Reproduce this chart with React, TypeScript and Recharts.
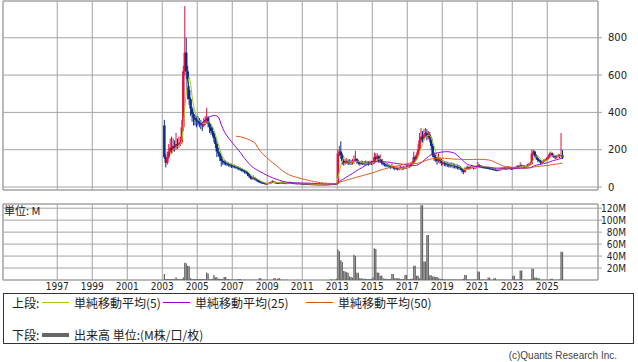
import React from 'react';
import { ComposedChart, Bar, Line, XAxis, YAxis, CartesianGrid, ReferenceArea } from 'recharts';

// Monthly candles from Feb 2003 to Nov 2025
const START_YEAR = 2003;
const START_MONTH = 2;
const firstOpen = 330;

const closeValues = [
  // 2003 (Feb-Dec)
  160, 130, 160, 190, 210, 200, 220, 210, 230, 225, 235,
  // 2004
  240, 320, 620, 720, 620, 520, 470, 420, 390, 370, 360, 355,
  // 2005
  350, 340, 335, 330, 345, 360, 370, 340, 320, 300, 290, 260,
  // 2006
  230, 190, 180, 160, 140, 135, 130, 128, 125, 122, 118, 115,
  // 2007
  112, 110, 106, 104, 100, 96, 92, 88, 84, 80, 70, 60,
  // 2008
  50, 45, 50, 42, 38, 32, 28, 25, 22, 20, 18, 18,
  // 2009
  20, 22, 24, 28, 26, 24, 22, 21, 22, 24, 22, 21,
  // 2010
  20, 21, 22, 24, 22, 21, 20, 20, 19, 20, 19, 18,
  // 2011
  18, 17, 17, 16, 16, 15, 15, 15, 14, 14, 14, 14,
  // 2012
  14, 14, 13, 14, 14, 14, 15, 15, 16, 17, 18, 18,
  // 2013
  180, 190, 170, 140, 130, 135, 140, 130, 135, 130, 135, 140,
  // 2014
  150, 135, 130, 125, 130, 128, 125, 130, 128, 125, 130, 128,
  // 2015
  130, 160, 150, 165, 140, 150, 130, 125, 120, 115, 118, 112,
  // 2016
  108, 110, 105, 100, 102, 98, 100, 105, 100, 102, 105, 108,
  // 2017
  110, 110, 120, 130, 160, 150, 170, 200, 250, 270, 260, 280,
  // 2018
  290, 270, 280, 260, 220, 170, 160, 150, 140, 150, 140, 130,
  // 2019
  130, 128, 125, 122, 120, 118, 120, 115, 112, 110, 108, 105,
  // 2020
  100, 90, 80, 95, 100, 105, 100, 105, 108, 102, 105, 108,
  // 2021
  115, 112, 110, 108, 106, 105, 104, 102, 100, 98, 96, 95,
  // 2022
  92, 90, 92, 95, 96, 98, 100, 98, 100, 102, 100, 98,
  // 2023
  100, 102, 105, 110, 108, 115, 112, 110, 108, 112, 115, 120,
  // 2024
  125, 180, 190, 170, 155, 145, 140, 135, 135, 140, 145, 150,
  // 2025 (Jan-Nov)
  160, 175, 180, 170, 165, 160, 165, 170, 165, 170, 158,
];

const highValues = [
  360, 175, 190, 230, 260, 270, 260, 250, 290, 260, 270,
  270, 360, 650, 970, 800, 650, 540, 480, 430, 400, 390, 380,
  380, 370, 360, 350, 370, 380, 425, 380, 350, 330, 320, 300,
  270, 240, 210, 190, 170, 150, 145, 140, 135, 132, 128, 125,
  122, 120, 116, 112, 110, 105, 100, 96, 92, 90, 84, 74,
  62, 56, 62, 54, 48, 42, 36, 32, 28, 26, 23, 22,
  24, 26, 30, 38, 32, 29, 26, 25, 26, 30, 27, 25,
  24, 25, 26, 29, 26, 24, 23, 23, 22, 24, 22, 21,
  21, 20, 19, 19, 18, 17, 17, 17, 16, 16, 16, 16,
  16, 16, 15, 16, 16, 16, 17, 17, 18, 19, 21, 22,
  200, 220, 245, 180, 150, 150, 155, 148, 150, 145, 150, 170,
  195, 155, 145, 140, 142, 140, 138, 142, 140, 138, 142, 140,
  140, 185, 180, 180, 170, 175, 150, 135, 130, 125, 128, 122,
  118, 125, 115, 110, 112, 108, 110, 115, 110, 112, 115, 118,
  118, 120, 132, 140, 190, 170, 185, 230, 290, 316, 300, 310,
  316, 310, 300, 295, 270, 230, 185, 175, 160, 180, 160, 150,
  145, 140, 138, 135, 132, 130, 132, 128, 125, 122, 120, 118,
  112, 102, 95, 105, 110, 115, 110, 112, 116, 110, 112, 115,
  135, 122, 118, 115, 113, 112, 110, 110, 108, 106, 104, 102,
  100, 97, 98, 102, 103, 105, 107, 105, 108, 110, 108, 106,
  106, 108, 112, 118, 116, 132, 120, 118, 116, 120, 124, 130,
  134, 200, 200, 195, 175, 160, 150, 145, 142, 148, 152, 158,
  168, 185, 190, 185, 175, 170, 172, 178, 175, 289, 198,
];

const lowValues = [
  150, 105, 120, 150, 180, 180, 190, 190, 200, 205, 210,
  220, 230, 300, 600, 580, 470, 440, 380, 350, 330, 330, 320,
  330, 320, 310, 300, 320, 330, 340, 320, 290, 280, 270, 240,
  210, 160, 165, 140, 110, 120, 118, 115, 112, 110, 105, 102,
  104, 100, 98, 94, 90, 86, 82, 78, 72, 68, 58, 50,
  42, 38, 40, 36, 30, 26, 22, 20, 18, 16, 14, 14,
  16, 18, 20, 22, 22, 20, 19, 18, 19, 20, 19, 18,
  17, 18, 19, 20, 19, 18, 17, 17, 16, 17, 16, 16,
  15, 15, 15, 14, 14, 13, 13, 13, 12, 12, 12, 12,
  12, 12, 11, 12, 12, 12, 13, 13, 14, 15, 16, 16,
  18, 165, 150, 120, 115, 120, 125, 118, 120, 118, 120, 125,
  135, 125, 120, 115, 118, 118, 115, 118, 118, 115, 118, 118,
  120, 125, 135, 140, 130, 130, 120, 115, 110, 105, 108, 102,
  98, 100, 95, 90, 92, 88, 90, 95, 90, 92, 95, 98,
  100, 102, 108, 120, 128, 140, 145, 165, 195, 235, 240, 250,
  265, 250, 255, 240, 200, 160, 140, 135, 120, 130, 125, 115,
  115, 112, 110, 108, 105, 104, 105, 100, 100, 98, 95, 92,
  90, 78, 68, 78, 90, 95, 92, 95, 98, 94, 96, 100,
  105, 104, 102, 100, 99, 98, 97, 95, 93, 92, 90, 89,
  86, 84, 85, 88, 90, 92, 93, 92, 93, 95, 93, 92,
  94, 96, 98, 102, 102, 106, 105, 103, 100, 104, 107, 112,
  115, 122, 170, 160, 145, 135, 130, 120, 125, 130, 136, 140,
  145, 155, 168, 160, 155, 150, 152, 158, 155, 160, 150,
];

// Volume in millions
const volumeValues = [
  10, 1.5, 1.5, 1.5, 1.5, 1.5, 1.5, 1.5, 4.5, 1.5, 1.5,
  1.5, 1.5, 4, 29, 28, 24, 23, 3, 1.5, 1.5, 1.5, 1.5,
  1.5, 1.5, 1.5, 1.5, 1.5, 1.5, 12.5, 11, 1.5, 1.5, 2, 8.5,
  4.5, 4.5, 2, 2, 1.5, 1.5, 5, 5, 1.5, 1.5, 1, 1,
  0.8, 0.8, 0.8, 0.8, 1.7, 1.7, 0.6, 0.6, 0.6, 0.5, 0.5, 0.5,
  0.5, 0.5, 0.5, 0.5, 0.5, 0.5, 3, 3, 0.5, 0.5, 0.5, 0.5,
  0.3, 0.3, 0.3, 0.5, 3, 3, 1, 3, 3, 0.5, 0.5, 0.3,
  0.3, 1, 0.2, 0.2, 0.2, 0.2, 0.2, 0.2, 0.2, 0.2, 0.2, 0.2,
  0.1, 0.1, 0.1, 0.1, 0.1, 0.1, 0.1, 0.1, 0.1, 0.1, 0.1, 0.1,
  0.1, 0.1, 0.1, 0.1, 0.1, 0.1, 0.1, 1, 1, 0.5, 0.5, 2,
  51, 48, 33, 30, 15, 14, 13, 12, 6, 5, 4, 42,
  40, 12, 12, 3, 3, 2, 2, 2, 1.5, 1.5, 1.5, 2,
  4, 53, 52, 12.5, 12, 7, 7, 3, 2, 2, 1.5, 1.5,
  1.5, 10, 10, 3, 3, 3, 3, 1.5, 1.5, 1.5, 8.5, 8.5,
  1.5, 1.5, 2, 2, 24, 24, 7, 7, 3, 125, 125, 31,
  31, 75, 75, 8, 8, 6, 6, 5, 5, 3, 2, 2,
  1.5, 1, 1, 1, 1, 0.8, 0.8, 0.8, 0.8, 0.8, 0.8, 0.8,
  0.8, 0.8, 2, 8.5, 8.5, 1, 1, 0.8, 0.8, 0.8, 0.8, 0.8,
  14, 14, 1, 1, 1, 1, 0.5, 4, 4, 0.5, 0.5, 3,
  3, 0.3, 0.3, 0.3, 0.3, 0.3, 0.3, 0.3, 0.3, 0.3, 0.3, 0.3,
  7, 7, 1, 1, 1, 16, 16, 1, 1, 0.5, 0.5, 0.5,
  1, 19, 19, 4, 4, 3, 3, 0.5, 0.5, 0.5, 0.5, 0.5,
  0.5, 0.5, 2, 2, 0.5, 0.5, 0.5, 0.5, 1, 47, 47,
];

const yearTicks = [1997, 1999, 2001, 2003, 2005, 2007, 2009, 2011, 2013, 2015, 2017, 2019, 2021, 2023, 2025];
const priceTicks = [0, 200, 400, 600, 800];
const volumeTicks = [20, 40, 60, 80, 100, 120];
const maPeriods = [5, 25, 50];
const maLabels = ['単純移動平均(5)', '単純移動平均(25)', '単純移動平均(50)'];
const maColors = ['#a6c81e', '#9400d3', '#d9531e'];

const X_DOMAIN: [number, number] = [1993.9, 2027.9];
const PRICE_DOMAIN: [number, number] = [-16, 997];
const VOL_DOMAIN: [number, number] = [0, 127];

const RED = '#e0103c';
const BLUE = '#0a2c8c';
const GRID = '#a3a3a3';

const movingAvg = (i: number, n: number): number | null => {
  if (i + 1 < n) return null;
  let s = 0;
  for (let k = i - n + 1; k <= i; k++) s += closeValues[k];
  return s / n;
};

const rows = closeValues.map((c, i) => {
  const m = START_MONTH - 1 + i;
  const t = START_YEAR + (m + 0.5) / 12;
  const open = i === 0 ? firstOpen : closeValues[i - 1];
  const high = Math.max(highValues[i], open, c);
  const low = Math.min(lowValues[i], open, c);
  return {
    t,
    open,
    close: c,
    high,
    low,
    range: [low, high],
    vol: volumeValues[i],
    ma5: movingAvg(i, maPeriods[0]),
    ma25: movingAvg(i, maPeriods[1]),
    ma50: movingAvg(i, maPeriods[2]),
  };
});

const Candle = (props: any) => {
  const { x, y, width, height, payload } = props;
  if (!payload || x == null || y == null || height == null) return null;
  const top = Math.min(y, y + height);
  const bottom = Math.max(y, y + height);
  const { open, close, high, low } = payload;
  const span = high - low || 1;
  const px = (v: number) => bottom - ((v - low) / span) * (bottom - top);
  const color = close >= open ? RED : BLUE;
  const cx = x + width / 2;
  const bTop = px(Math.max(open, close));
  const bBot = px(Math.min(open, close));
  return (
    <g>
      <line x1={cx} x2={cx} y1={top} y2={bottom} stroke={color} strokeWidth={1} />
      <rect x={cx - 1.25} y={bTop} width={2.5} height={Math.max(1, bBot - bTop)} fill={color} />
    </g>
  );
};

const VolTick = (props: any) => {
  const { x, y, payload } = props;
  return (
    <text x={x + 22} y={y} dy="0.35em" textAnchor="end" fontSize={10}
      fontFamily="'Liberation Sans Narrow', 'DejaVu Sans Condensed', sans-serif" fill="#222">
      {`${payload.value}M`}
    </text>
  );
};

const EmptyTick = () => <g />;

const legendFont = "'Noto Sans CJK JP', sans-serif";

export default function App() {
  return (
    <div style={{ position: 'absolute', left: 0, top: 0, width: 638, height: 362, background: '#fff', overflow: 'hidden' }}>
      <div style={{ position: 'absolute', left: 0, top: 0 }}>
        <ComposedChart width={638} height={192} data={rows} margin={{ top: 1, right: 0, bottom: 0, left: 3 }}>
          <CartesianGrid stroke={GRID} strokeWidth={1} />
          <XAxis dataKey="t" type="number" domain={X_DOMAIN} ticks={yearTicks} allowDataOverflow interval={0}
            height={2} tick={<EmptyTick />} axisLine={false} tickLine={false} />
          <YAxis orientation="right" width={40} domain={PRICE_DOMAIN} ticks={priceTicks} allowDataOverflow interval={0}
            axisLine={false} tickLine={{ stroke: GRID }} tickSize={4} tickMargin={6}
            tick={{ fontSize: 10, fontFamily: "'DejaVu Sans', sans-serif", fill: '#222', textAnchor: 'start' }} />
          <ReferenceArea x1={X_DOMAIN[0]} x2={X_DOMAIN[1]} y1={PRICE_DOMAIN[0]} y2={PRICE_DOMAIN[1]}
            fill="none" stroke={GRID} strokeWidth={1} ifOverflow="visible" />
          <Bar dataKey="range" barSize={2} shape={<Candle />} isAnimationActive={false} />
          <Line dataKey="ma5" stroke={maColors[0]} strokeWidth={1} dot={false} isAnimationActive={false} connectNulls={false} />
          <Line dataKey="ma25" stroke={maColors[1]} strokeWidth={1} dot={false} isAnimationActive={false} connectNulls={false} />
          <Line dataKey="ma50" stroke={maColors[2]} strokeWidth={1} dot={false} isAnimationActive={false} connectNulls={false} />
        </ComposedChart>
      </div>

      <div style={{ position: 'absolute', left: 0, top: 200 }}>
        <ComposedChart width={638} height={94} data={rows} margin={{ top: 4, right: 0, bottom: 0, left: 3 }}>
          <CartesianGrid stroke={GRID} strokeWidth={1} />
          <XAxis dataKey="t" type="number" domain={X_DOMAIN} ticks={yearTicks} allowDataOverflow
            height={14} axisLine={false} tickLine={false} tickSize={0} tickMargin={3} interval={0}
            tick={{ fontSize: 10, fontFamily: "'Liberation Sans Narrow', 'DejaVu Sans Condensed', sans-serif", fill: '#222' }} />
          <YAxis orientation="right" width={40} domain={VOL_DOMAIN} ticks={volumeTicks} allowDataOverflow interval={0}
            axisLine={false} tickLine={{ stroke: GRID }} tickSize={4} tick={<VolTick />} />
          <ReferenceArea x1={X_DOMAIN[0]} x2={X_DOMAIN[1]} y1={VOL_DOMAIN[0]} y2={VOL_DOMAIN[1]}
            fill="none" stroke={GRID} strokeWidth={1} ifOverflow="visible" />
          <Bar dataKey="vol" barSize={2} fill="#666" isAnimationActive={false} />
        </ComposedChart>
      </div>

      <div style={{ position: 'absolute', left: 4, top: 203, fontSize: 11, lineHeight: '14px', fontFamily: legendFont, color: '#222' }}>
        単位: M
      </div>

      <div style={{ position: 'absolute', left: 3, top: 293, width: 631, height: 51, border: '1px solid #333', boxSizing: 'border-box', fontFamily: legendFont, fontSize: 12, color: '#222' }}>
        <div style={{ position: 'absolute', left: 8, top: 1, lineHeight: '16px' }}>上段:</div>
        {maLabels.map((label, k) => {
          const lx = [38, 159, 302][k];
          return (
            <React.Fragment key={label}>
              <div style={{ position: 'absolute', left: lx, top: 8, width: 27, height: 1, background: maColors[k] }} />
              <div style={{ position: 'absolute', left: lx + 32, top: 1, lineHeight: '16px', whiteSpace: 'nowrap' }}>{label}</div>
            </React.Fragment>
          );
        })}
        <div style={{ position: 'absolute', left: 8, top: 33, lineHeight: '16px' }}>下段:</div>
        <div style={{ position: 'absolute', left: 38, top: 39, width: 27, height: 4, background: '#666' }} />
        <div style={{ position: 'absolute', left: 70, top: 33, lineHeight: '16px', whiteSpace: 'nowrap' }}>出来高 単位:(M株/口/枚)</div>
      </div>

      <div style={{ position: 'absolute', right: 21, top: 349, fontSize: 10, lineHeight: '14px', fontFamily: "'Liberation Sans', sans-serif", color: '#444' }}>
        (c)Quants Research Inc.
      </div>
    </div>
  );
}
